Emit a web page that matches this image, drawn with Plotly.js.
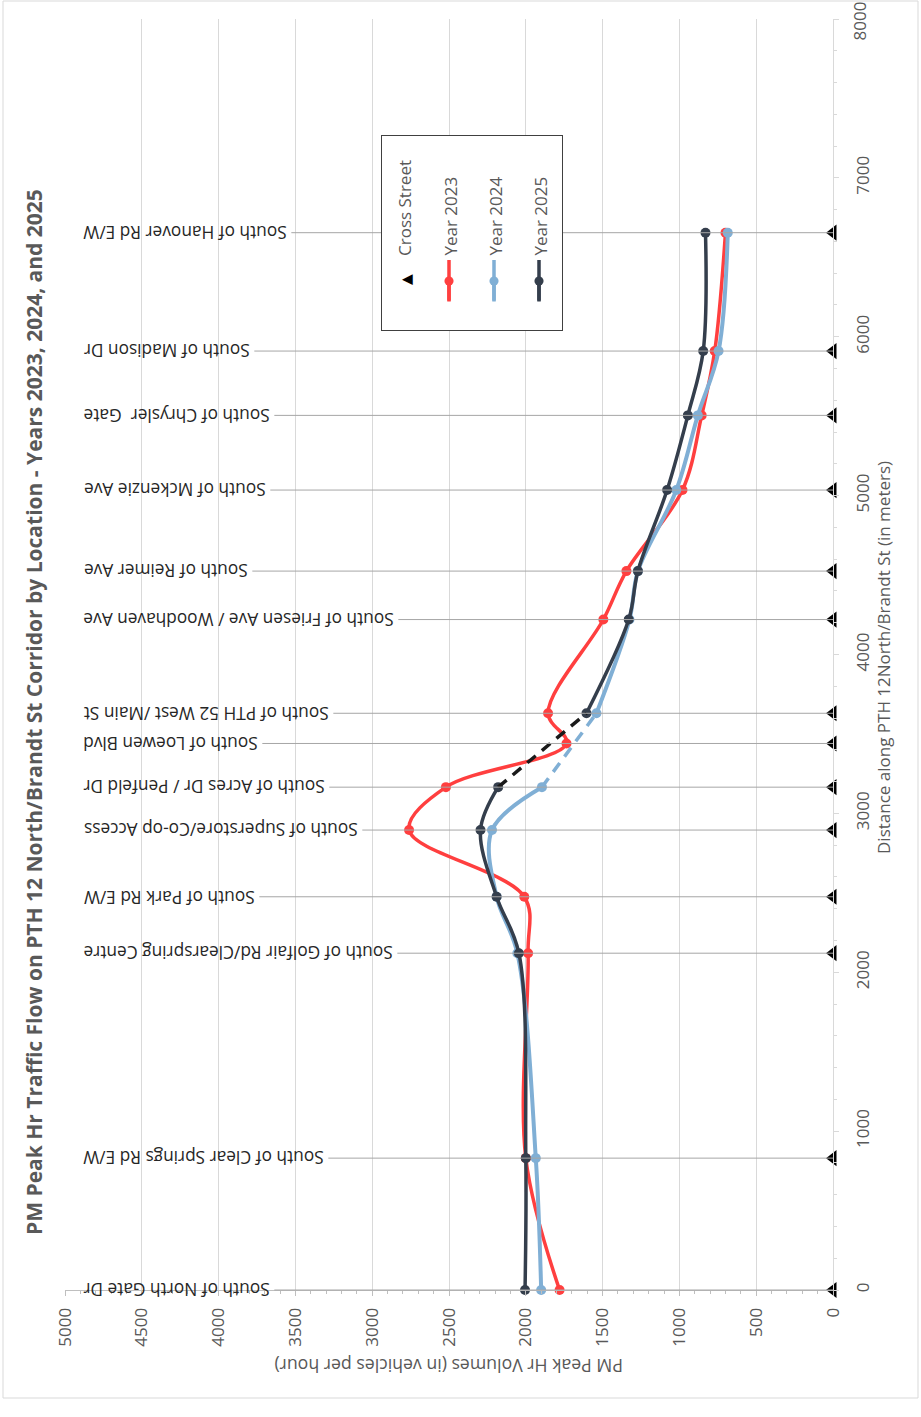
<!DOCTYPE html>
<html><head><meta charset="utf-8">
<script src="https://cdn.plot.ly/plotly-3.0.1.min.js"></script>
<style>html,body{margin:0;padding:0;background:#fff}#chart{width:921px;height:1417px}</style>
</head><body><div id="chart"></div>
<script>
// ---------------- data ----------------
const crossStreets = [
  "South of North Gate Dr",
  "South of Clear Springs Rd E/W",
  "South of Golfair Rd/Clearspring Centre",
  "South of Park Rd E/W",
  "South of Superstore/Co-op Access",
  "South of Acres Dr / Penfeld Dr",
  "South of Loewen Blvd",
  "South of PTH 52 West /Main St",
  "South of Friesen Ave / Woodhaven Ave",
  "South of Reimer Ave",
  "South of Mckenzie Ave",
  "South of Chrysler  Gate",
  "South of Madison Dr",
  "South of Hanover Rd E/W"
];
const distance = [0, 830, 2120, 2475, 2895, 3165, 3440, 3630, 4220, 4525, 5035, 5505, 5910, 6655];
const crossStreetLevel = [0, 0, 0, 0, 0, 0, 0, 0, 0, 0, 0, 0, 0, 0];
const year2023 = [1780, 2000, 1985, 2010, 2760, 2520, 1735, 1855, 1495, 1345, 980, 855, 770, 700];
const year2024 = [1900, 1935, 2055, 2190, 2220, 1895, null, 1540, 1325, 1270, 1020, 880, 745, 685];
const year2025 = [2005, 2000, 2045, 2190, 2295, 2180, null, 1605, 1330, 1270, 1080, 945, 845, 830];
const seriesNames = ["Year 2023", "Year 2024", "Year 2025"];
const volumeTicks = [0, 500, 1000, 1500, 2000, 2500, 3000, 3500, 4000, 4500, 5000];
const distanceTicks = [0, 1000, 2000, 3000, 4000, 5000, 6000, 7000, 8000];

const titleText = "PM Peak Hr Traffic Flow on PTH 12 North/Brandt St Corridor by Location - Years 2023, 2024, and 2025";
const volTitle = "PM Peak Hr Volumes (in vehicles per hour)";
const distTitle = "Distance along PTH 12North/Brandt St (in meters)";

// ---------------- styles ----------------
const RED = '#FF3F3F', BLUE = '#80AFD5', DARK = '#343E4C';
const FONT = '"Open Sans", "DejaVu Sans", sans-serif';
const M = {l: 65, r: 88, t: 19, b: 127};
const W = 921, H = 1417;
const PW = W - M.l - M.r, PH = H - M.t - M.b;
const pxX = p => (p - M.l) / PW;
const pxY = p => (H - M.b - p) / PH;

function gapSegment(vals) {
  const g = vals.indexOf(null);
  return {x: [vals[g - 1], vals[g + 1]], y: [distance[g - 1], distance[g + 1]]};
}
const seg24 = gapSegment(year2024);
const seg25 = gapSegment(year2025);

const traces = [
  {x: crossStreetLevel, y: distance, type: 'scatter', mode: 'markers', name: 'Cross Street',
   marker: {symbol: 'triangle-left', size: 14, color: '#000'}, cliponaxis: false, hoverinfo: 'skip'},
  {x: year2023, y: distance, type: 'scatter', mode: 'lines+markers', name: seriesNames[0],
   line: {color: RED, width: 3.5, shape: 'spline', smoothing: 1}, marker: {size: 10, color: RED}, cliponaxis: false},
  {x: year2024, y: distance, type: 'scatter', mode: 'lines+markers', name: seriesNames[1], connectgaps: false,
   line: {color: BLUE, width: 4, shape: 'spline', smoothing: 1}, marker: {size: 10, color: BLUE}, cliponaxis: false},
  {x: seg24.x, y: seg24.y, type: 'scatter', mode: 'lines', showlegend: false,
   line: {color: BLUE, width: 3.5, dash: '11px,8px'}, cliponaxis: false},
  {x: year2025, y: distance, type: 'scatter', mode: 'lines+markers', name: seriesNames[2], connectgaps: false,
   line: {color: DARK, width: 3.5, shape: 'spline', smoothing: 1}, marker: {size: 10, color: DARK}, cliponaxis: false},
  {x: seg25.x, y: seg25.y, type: 'scatter', mode: 'lines', showlegend: false,
   line: {color: '#1a1a1a', width: 3.5, dash: '11px,8px'}, cliponaxis: false}
];

const annotations = [];
crossStreets.forEach((name, i) => {
  annotations.push({
    x: 0, y: distance[i], xref: 'x', yref: 'y',
    axref: 'x', ayref: 'y', ax: 4910, ay: distance[i],
    text: name, textangle: 180, xanchor: 'right', yanchor: 'middle',
    font: {family: FONT, size: 17.3, color: '#262626'},
    showarrow: true, arrowhead: 0, arrowwidth: 1, arrowcolor: '#a6a6a6', standoff: 0, borderpad: 4
  });
});
annotations.push({
  xref: 'paper', yref: 'paper', x: pxX(381), y: pxY(135), xanchor: 'left', yanchor: 'top',
  text: ' ', width: 180, height: 194, bgcolor: '#ffffff', bordercolor: '#404040', borderwidth: 1,
  borderpad: 0, showarrow: false
});
annotations.push({xref: 'paper', yref: 'paper', x: pxX(406), y: pxY(280), text: '▲', textangle: -90,
  xanchor: 'center', yanchor: 'middle', font: {family: 'DejaVu Sans', size: 14, color: '#000'}, showarrow: false, borderpad: 0});
annotations.push({xref: 'paper', yref: 'paper', x: pxX(404), y: pxY(257), text: 'Cross Street', textangle: -90,
  xanchor: 'center', yanchor: 'bottom', font: {family: FONT, size: 17, color: '#595959'}, showarrow: false, borderpad: 0});
const legendCols = [449, 494, 539];
const legendColors = [RED, BLUE, DARK];
seriesNames.forEach((nm, k) => {
  const xc = legendCols[k];
  annotations.push({xref: 'paper', yref: 'paper', x: pxX(xc), y: pxY(260), ax: 0, ay: 42, text: '',
    showarrow: true, arrowhead: 0, arrowwidth: 3.5, arrowcolor: legendColors[k], standoff: 0, borderpad: 0, font: {size: 1}});
  annotations.push({xref: 'paper', yref: 'paper', x: pxX(xc), y: pxY(281), ax: 0, ay: 20, text: '',
    showarrow: true, arrowhead: 6, arrowsize: 0.65, arrowwidth: 3.5, arrowcolor: legendColors[k], standoff: 0, borderpad: 0, font: {size: 1}});
  annotations.push({xref: 'paper', yref: 'paper', x: pxX(xc + 1), y: pxY(257), text: nm, textangle: -90,
    xanchor: 'center', yanchor: 'bottom', font: {family: FONT, size: 17, color: '#595959'}, showarrow: false, borderpad: 0});
});
annotations.push({xref: 'paper', yref: 'paper', x: pxX(859), y: pxY(1), text: String(distanceTicks[distanceTicks.length - 1]),
  textangle: -90, xanchor: 'center', yanchor: 'top', font: {family: FONT, size: 17, color: '#595959'}, showarrow: false, borderpad: 0});
annotations.push({xref: 'paper', yref: 'paper', x: pxX(34), y: pxY(712), text: '<b>' + titleText + '</b>', textangle: -90,
  xanchor: 'center', yanchor: 'middle', font: {family: FONT, size: 21, color: '#595959'}, showarrow: false, borderpad: 0});
annotations.push({xref: 'paper', yref: 'paper', x: pxX(884), y: pxY(658), text: distTitle, textangle: -90,
  xanchor: 'center', yanchor: 'middle', font: {family: FONT, size: 17, color: '#595959'}, showarrow: false, borderpad: 0});
annotations.push({xref: 'paper', yref: 'paper', x: pxX(449), y: pxY(1366), text: volTitle, textangle: 180,
  xanchor: 'center', yanchor: 'middle', font: {family: FONT, size: 17.7, color: '#595959'}, showarrow: false, borderpad: 0});

const distanceLabels = distanceTicks.map((d, i) => i === distanceTicks.length - 1 ? '' : String(d));

const layout = {
  width: W, height: H, margin: {l: M.l, r: M.r, t: M.t, b: M.b, pad: 0},
  paper_bgcolor: '#fff', plot_bgcolor: '#fff', showlegend: false,
  font: {family: FONT, size: 17, color: '#595959'},
  xaxis: {range: [5000, 0], tickmode: 'array', tickvals: volumeTicks, ticktext: volumeTicks.map(String),
    showgrid: true, gridcolor: '#d9d9d9', gridwidth: 1, zeroline: false,
    showline: true, linecolor: '#bfbfbf', linewidth: 1, ticks: 'outside', ticklen: 5, tickcolor: '#bfbfbf',
    tickangle: -90, tickfont: {family: FONT, size: 17, color: '#595959'}, ticklabelstandoff: 5,
    ticklabeloverflow: 'allow',
    minor: {dtick: 100, ticks: 'outside', ticklen: 3, tickcolor: '#bfbfbf', showgrid: false}, fixedrange: true},
  yaxis: {range: [0, 8000], side: 'right', tickmode: 'array', tickvals: distanceTicks, ticktext: distanceLabels,
    showgrid: false, zeroline: false, showline: true, linecolor: '#d9d9d9', linewidth: 1,
    ticks: 'outside', ticklen: 5, tickcolor: '#d9d9d9', tickangle: -90,
    tickfont: {family: FONT, size: 17, color: '#595959'}, ticklabelstandoff: 10, ticklabeloverflow: 'allow',
    minor: {dtick: 200, ticks: 'outside', ticklen: 3, tickcolor: '#d9d9d9', showgrid: false}, fixedrange: true},
  xaxis2: {overlaying: 'x', anchor: 'y', side: 'bottom', range: [5000, 0], dtick: 500, tick0: 0,
    ticks: 'inside', ticklen: 5, tickcolor: '#bfbfbf', showticklabels: false, showgrid: false, zeroline: false, showline: false,
    minor: {dtick: 100, ticks: 'inside', ticklen: 3, tickcolor: '#bfbfbf', showgrid: false}},
  yaxis2: {overlaying: 'y', anchor: 'x', side: 'right', range: [0, 8000], dtick: 1000, tick0: 0,
    ticks: 'inside', ticklen: 5, tickcolor: '#d9d9d9', showticklabels: false, showgrid: false, zeroline: false, showline: false,
    minor: {dtick: 200, ticks: 'inside', ticklen: 3, tickcolor: '#d9d9d9', showgrid: false}},
  shapes: [{type: 'rect', xref: 'paper', yref: 'paper', x0: pxX(3), x1: pxX(918), y0: pxY(1398), y1: pxY(1),
    line: {color: '#d9d9d9', width: 1}, layer: 'below'}],
  annotations: annotations
};

Plotly.newPlot('chart', traces, layout, {displayModeBar: false, staticPlot: true});
</script>
</body></html>
